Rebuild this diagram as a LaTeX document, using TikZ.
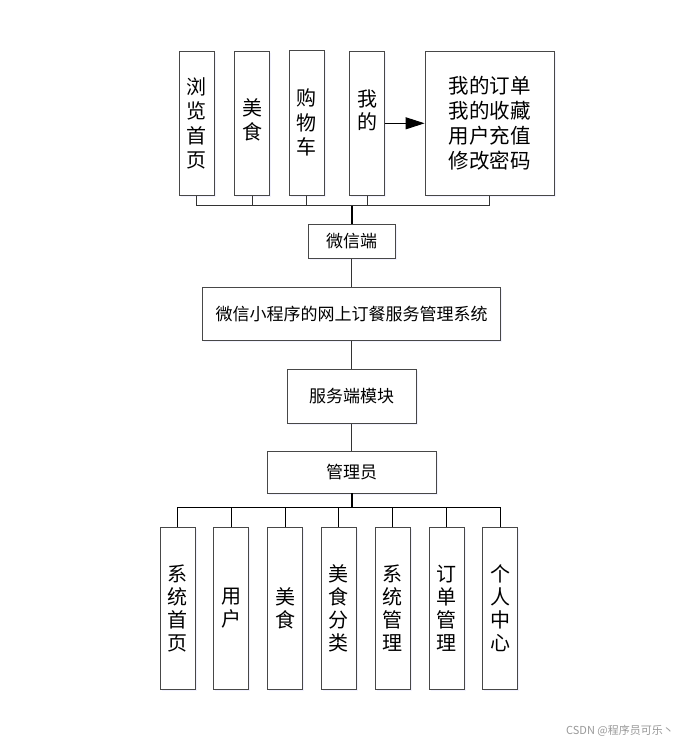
\documentclass[tikz,border=0pt]{standalone}
\usepackage{fontspec}
\setmainfont{Noto Sans CJK SC}
\usetikzlibrary{arrows.meta,shadows}
\begin{document}
\begin{tikzpicture}[x=1pt,y=-1pt,
  box/.style={draw=black!72, line width=0.9pt, fill=white, inner sep=0pt, align=center,
    drop shadow={opacity=0.12, shadow xshift=1.5pt, shadow yshift=-1.5pt, fill=blue!40}},
  vbox/.style={box, minimum width=35pt, font=\fontsize{20}{24.5}\selectfont},
  bbox/.style={box, minimum width=35pt, minimum height=161.7pt, font=\fontsize{20}{23}\selectfont},
  mbox/.style={box, font=\fontsize{17}{20}\selectfont},
  conn/.style={draw=black!80, line width=0.8pt},
  bconn/.style={draw=black, line width=1pt},
  txt/.style={inner sep=0pt, align=center}
]
\path[use as bounding box, fill=white] (0,0) rectangle (696,745);

% top boxes
\node[vbox, minimum height=144.7pt] (b1) at (196.7,123.35) {浏\\览\\首\\页};
\node[vbox, minimum height=144.7pt] (b2) at (252.2,123.35) {};
\node[txt, font=\fontsize{20}{24.5}\selectfont] (t2) at (252.2,120) {美\\食};
\node[vbox, minimum height=145.7pt] (b3) at (306.7,122.85) {购\\物\\车};
\node[vbox, minimum height=144.7pt] (b4) at (367,123.35) {};
\node[txt, font=\fontsize{20}{23}\selectfont] (t4) at (367,110) {我\\的};
\node[box, minimum width=129.3pt, minimum height=144.7pt, font=\fontsize{20.5}{25}\selectfont] (b5) at (489.7,123.35) {我的订单\\我的收藏\\用户充值\\修改密码};

\draw[black, line width=1pt, -{Triangle[length=19pt,width=12pt]}] (b4.east |- 0,123.3) -- (b5.west |- 0,123.3);

% middle
\coordinate (tbus) at (351.7,205.7);
\node[mbox, minimum width=86.7pt, minimum height=34pt] (wx) at (351.7,241.3) {微信端};
\node[mbox, minimum width=298pt, minimum height=53.4pt] (sys) at (351.7,314) {微信小程序的网上订餐服务管理系统};
\node[mbox, minimum width=129.3pt, minimum height=53.6pt] (fw) at (351.7,396.5) {服务端模块};
\node[mbox, minimum width=168.7pt, minimum height=41.3pt] (gly) at (351.7,472.35) {管理员};

\foreach \b in {b1,b2,b3,b4,b5} { \draw[conn] (\b.south) |- (tbus); }
\draw[black, line width=1.6pt] (tbus) -- (wx.north);
\draw[conn] (wx.south) -- (sys.north);
\draw[conn] (sys.south) -- (fw.north);
\draw[conn] (fw.south) -- (gly.north);

% bottom
\coordinate (bbus) at (351.7,507);
\node[bbox] (c1) at (177.5,608.15) {系\\统\\首\\页};
\node[bbox] (c2) at (231.2,608.15) {用\\户};
\node[bbox] (c3) at (285.2,608.15) {美\\食};
\node[bbox] (c4) at (338.8,608.15) {美\\食\\分\\类};
\node[bbox] (c5) at (392.7,608.15) {系\\统\\管\\理};
\node[bbox] (c6) at (446.5,608.15) {订\\单\\管\\理};
\node[bbox] (c7) at (500.2,608.15) {个\\人\\中\\心};

\draw[black, line width=1.6pt] (gly.south) -- (bbus);
\foreach \c in {c1,c2,c3,c4,c5,c6,c7} { \draw[bconn] (\c.north) |- (bbus); }

% watermark
\node[txt, anchor=west, text=black!40, font=\fontsize{11}{13}\selectfont] (wm) at (566,731) {CSDN @程序员可乐丶};
\end{tikzpicture}
\end{document}
